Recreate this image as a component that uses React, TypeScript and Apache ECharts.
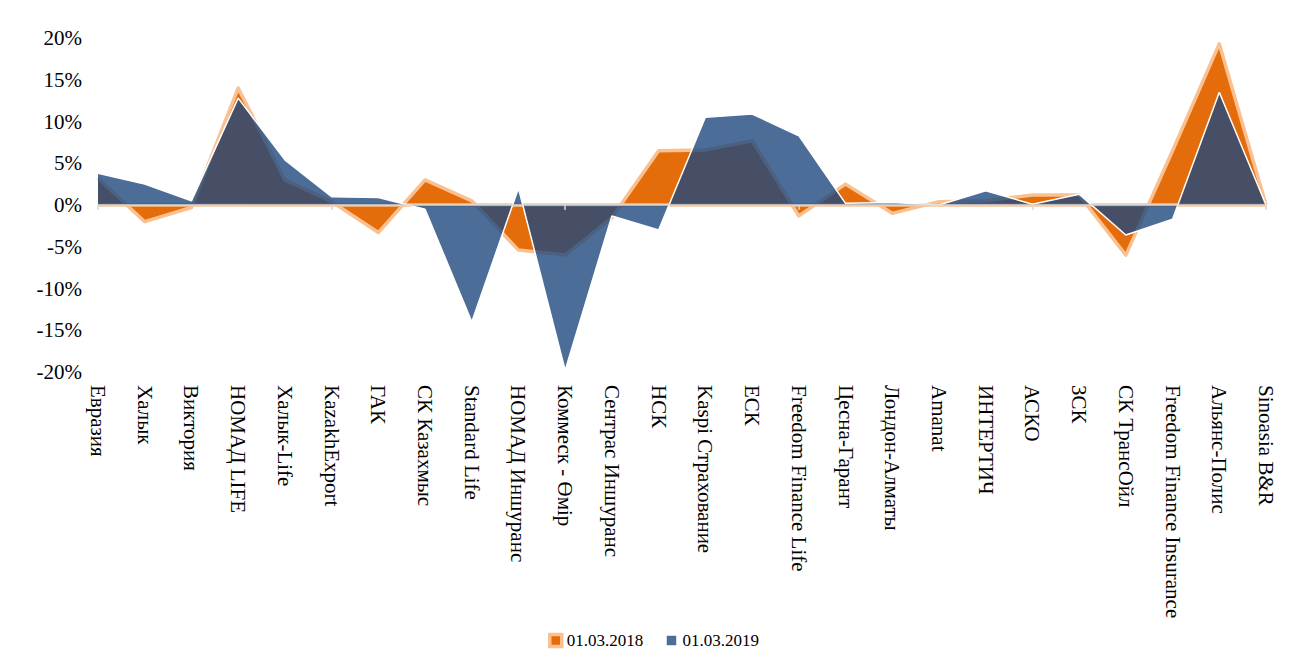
import React, { useEffect, useRef } from "react";
import * as echarts from "echarts";

const categories = [
  "Евразия", "Халык", "Виктория", "НОМАД LIFE", "Халык-Life", "KazakhExport", "ГАК",
  "СК Казахмыс", "Standard Life", "НОМАД Иншуранс", "Коммеск - Өмір", "Сентрас Иншуранс",
  "НСК", "Kaspi Страхование", "ЕСК", "Freedom Finance Life", "Цесна-Гарант", "Лондон-Алматы",
  "Amanat", "ИНТЕРТИЧ", "АСКО", "ЗСК", "СК ТрансОйл", "Freedom Finance Insurance",
  "Альянс-Полис", "Sinoasia B&R",
];

const series2018 = [3.2, -2.0, -0.3, 14.0, 3.0, 0.4, -3.3, 3.0, 0.5, -5.4, -6.0, -1.5, 6.5, 6.6, 7.7, -1.3, 2.5, -1.0, 0.4, 0.5, 1.2, 1.2, -6.0, 6.5, 19.3, 0];
const series2019 = [3.8, 2.5, 0.5, 12.8, 5.4, 1.0, 0.9, -0.5, -14.0, 2.0, -19.8, -1.3, -3.0, 10.5, 10.9, 8.3, 0.2, 0.3, 0.0, 1.7, 0.1, 1.3, -3.6, -1.7, 13.5, 0];

const seriesNames = ["01.03.2018", "01.03.2019"];
const yMin = -20;
const yMax = 20;
const yStep = 5;

const FONT = "'Liberation Serif', 'Times New Roman', serif";
const ORANGE = "#e46c0a";
const ORANGE_LIGHT = "#fac090";
const BLUE = "rgba(31,73,125,0.8)";
const BLUE_SOLID = "#4c6d97";

export default function App() {
  const ref = useRef<HTMLDivElement>(null);

  useEffect(() => {
    if (!ref.current) return;
    const chart = echarts.init(ref.current, undefined, { renderer: "svg" });
    chart.setOption({
      animation: false,
      grid: { left: 98, right: 31, top: 38, bottom: 300, containLabel: false },
      legend: {
        left: 543,
        top: 627,
        itemWidth: 12,
        itemHeight: 12,
        itemGap: 21,
        textStyle: { fontFamily: FONT, fontSize: 17, color: "#000" },
        data: [
          { name: seriesNames[0], icon: "rect", itemStyle: { color: ORANGE, borderColor: ORANGE_LIGHT, borderWidth: 3.5 } },
          { name: seriesNames[1], icon: "rect", itemStyle: { color: BLUE_SOLID, borderColor: "#fff", borderWidth: 2.5 } },
        ],
      },
      xAxis: [
        {
          type: "category",
          data: categories,
          boundaryGap: false,
          position: "bottom",
          axisLine: { show: false, onZero: false },
          axisTick: { show: false },
          axisLabel: {
            interval: 0,
            rotate: -90,
            margin: 13,
            fontFamily: FONT,
            fontSize: 21,
            color: "#000",
          },
          splitLine: { show: false },
        },
        {
          type: "category",
          data: categories,
          boundaryGap: false,
          position: "bottom",
          z: 10,
          axisLine: { show: true, onZero: true, lineStyle: { color: "#d9d9d9", width: 1.5 } },
          axisTick: { show: true, length: 5, lineStyle: { color: "#d9d9d9", width: 1.5 } },
          axisLabel: { show: false },
          splitLine: { show: false },
        },
      ],
      yAxis: {
        type: "value",
        min: yMin,
        max: yMax,
        interval: yStep,
        axisLine: { show: false },
        axisTick: { show: false },
        splitLine: { show: false },
        axisLabel: {
          formatter: "{value}%",
          margin: 16,
          fontFamily: FONT,
          fontSize: 21,
          color: "#000",
        },
      },
      series: [
        {
          name: seriesNames[0],
          type: "line",
          z: 2,
          data: series2018,
          symbol: "none",
          showSymbol: false,
          lineStyle: { color: ORANGE_LIGHT, width: 3.5, join: "round" },
          itemStyle: { color: ORANGE },
          areaStyle: { color: ORANGE, opacity: 1 },
          markLine: {
            silent: true,
            symbol: "none",
            label: { show: false },
            lineStyle: { color: ORANGE_LIGHT, width: 3.5, type: "solid" },
            data: [{ yAxis: 0 }],
          },
        },
        {
          name: seriesNames[1],
          type: "line",
          z: 6,
          data: series2019,
          symbol: "none",
          showSymbol: false,
          lineStyle: { color: "#ffffff", width: 1.5 },
          itemStyle: { color: BLUE_SOLID },
          areaStyle: { color: BLUE, opacity: 1 },
        },
      ],
    });
    return () => chart.dispose();
  }, []);

  return (
    <div
      ref={ref}
      style={{ position: "fixed", left: 0, top: 0, width: 1297, height: 672, background: "#fff" }}
    />
  );
}
